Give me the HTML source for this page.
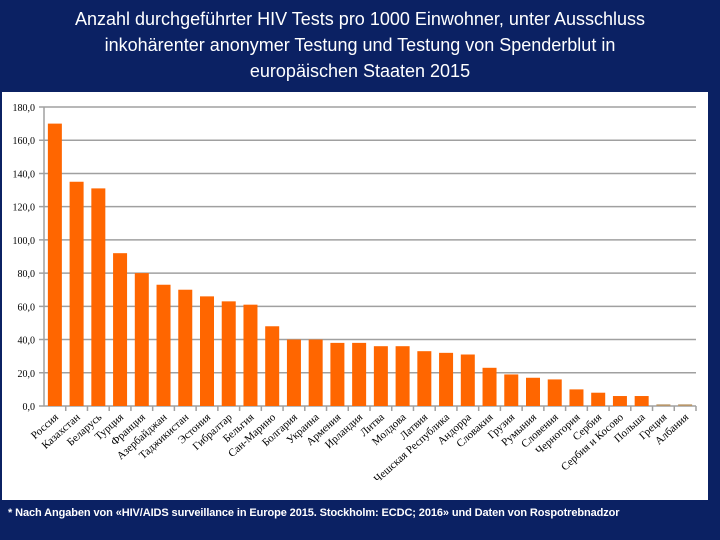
<!DOCTYPE html>
<html><head><meta charset="utf-8"><style>
body{margin:0;width:720px;height:540px;background:#0b2163;overflow:hidden;font-family:"Liberation Sans",sans-serif}
#title{position:absolute;left:0;top:6px;width:720px;text-align:center;color:#fff;font-size:18px;line-height:26px;font-family:"Liberation Sans",sans-serif}
#box{position:absolute;left:2px;top:92px;width:706px;height:408px;background:#fff}
#note{position:absolute;left:8px;top:507px;color:#fff;font-size:11px;font-family:"Liberation Sans",sans-serif;font-weight:bold;white-space:nowrap;letter-spacing:-0.1px}
</style></head><body>
<div id="title">Anzahl durchgeführter HIV Tests pro 1000 Einwohner, unter Ausschluss<br>inkohärenter anonymer Testung und Testung von Spenderblut in<br>europäischen Staaten 2015</div>
<div id="box"></div>
<svg id="chart" width="720" height="540" style="position:absolute;left:0;top:0"></svg>
<div id="note">* Nach Angaben von «HIV/AIDS surveillance in Europe 2015. Stockholm: ECDC; 2016» und Daten von Rospotrebnadzor</div>
<script>
const categories=["Россия","Казахстан","Беларусь","Турция","Франция","Азербайджан","Таджикистан","Эстония","Гибралтар","Бельгия","Сан-Марино","Болгария","Украина","Армения","Ирландия","Литва","Молдова","Латвия","Чешская Республика","Андорра","Словакия","Грузия","Румыния","Словения","Черногория","Сербия","Сербия и Косово","Польша","Греция","Албания"];
const values=[170,135,131,92,80,73,70,66,63,61,48,40,40,38,38,36,36,33,32,31,23,19,17,16,10,8,6,6,1,1];
const ticks=[0,20,40,60,80,100,120,140,160,180];
const NS="http://www.w3.org/2000/svg",svg=document.getElementById('chart');
const x0=44,x1=696,y0=406,yTop=107,vmax=180;
const y=v=>y0-(v/vmax)*(y0-yTop);
const bw=(x1-x0)/categories.length;
const xc=i=>x0+bw*(i+0.5);
function mk(t,a){const e=document.createElementNS(NS,t);for(const k in a)e.setAttribute(k,a[k]);svg.appendChild(e);return e;}
ticks.forEach(t=>{
 const g=mk('line',{x1:x0-5,x2:x1,y1:y(t),y2:y(t),stroke:'#a0a0a0','stroke-width':1.5});
 
 
 const l=mk('text',{x:x0-9,y:y(t)+4,'text-anchor':'end','font-size':10,'font-family':'Liberation Serif, serif',fill:'#000'});
 l.textContent=t.toFixed(1).replace('.',',');
 
 
});
const ax=mk('line',{x1:x0,x2:x0,y1:yTop,y2:y0,stroke:'#a0a0a0','stroke-width':1.5});


values.forEach((v,i)=>{
 const r=mk('rect',{x:xc(i)-7,y:y(v),width:14,height:y0-y(v),fill:v<3?'#b8966a':'#ff6600'});
 
 
 const tk=mk('line',{x1:x0+bw*(i+1),x2:x0+bw*(i+1),y1:y0,y2:y0+5,stroke:'#a0a0a0','stroke-width':1.5});
 
 
 const tx=xc(i)+4,ty=y0+12;
 const l=mk('text',{x:tx,y:ty,'text-anchor':'end','font-size':11,'font-family':'Liberation Serif, serif',fill:'#000',transform:`rotate(-42 ${tx} ${ty})`});
 l.textContent=categories[i];
 
 
});
</script>
</body></html>
